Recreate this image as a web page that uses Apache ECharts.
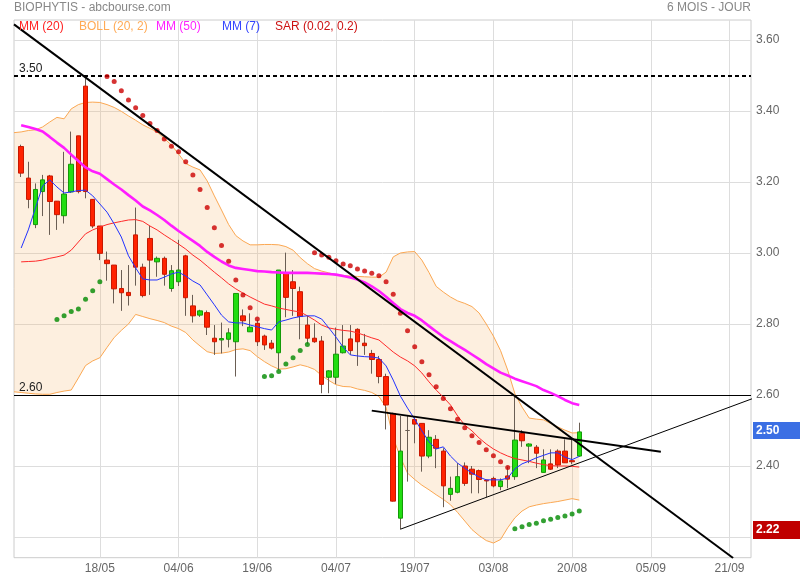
<!DOCTYPE html>
<html><head><meta charset="utf-8">
<script src="https://cdn.jsdelivr.net/npm/echarts@6/dist/echarts.min.js"></script>
<style>html,body{margin:0;padding:0;background:#fff}#c{width:800px;height:580px}</style>
</head><body><div id="c"></div>
<script>
const categories = ['02/05','03/05','04/05','07/05','08/05','09/05','10/05','11/05','14/05','15/05','16/05','17/05','18/05','21/05','22/05','23/05','24/05','25/05','28/05','29/05','30/05','31/05','01/06','04/06','05/06','06/06','07/06','08/06','11/06','12/06','13/06','14/06','15/06','18/06','19/06','20/06','21/06','22/06','25/06','26/06','27/06','28/06','29/06','02/07','03/07','04/07','05/07','06/07','09/07','10/07','11/07','12/07','13/07','16/07','17/07','18/07','19/07','20/07','23/07','24/07','25/07','26/07','27/07','30/07','31/07','01/08','02/08','03/08','06/08','07/08','08/08','09/08','10/08','13/08','14/08','15/08','16/08','17/08','20/08','21/08','22/08','23/08','24/08','27/08','28/08','29/08','30/08','31/08','03/09','05/09','06/09','07/09','10/09','11/09','12/09','13/09','14/09','17/09','18/09','19/09','21/09','24/09','25/09','26/09'];

// candles, from 03/05 (index 1) to 21/08 (index 79)
const opens = [3.300,3.211,3.080,3.173,3.217,3.146,3.105,3.172,3.330,3.470,
3.151,3.076,2.980,2.966,2.900,2.889,3.051,2.960,3.041,2.975,
2.985,2.900,2.919,2.992,2.851,2.825,2.832,2.760,2.755,2.757,
2.750,2.823,2.778,2.802,2.766,2.746,2.719,2.943,2.919,2.891,
2.797,2.760,2.752,2.650,2.650,2.719,2.758,2.785,2.746,2.717,
2.700,2.652,2.548,2.253,2.500,2.531,2.520,2.428,2.475,2.442,
2.320,2.326,2.400,2.391,2.387,2.360,2.365,2.342,2.372,2.370,
2.492,2.456,2.453,2.382,2.406,2.442,2.442,2.415,2.428];
const closes = [3.225,3.151,3.179,3.206,3.145,3.108,3.166,3.250,3.173,3.173,
3.076,2.999,2.970,2.899,2.888,2.880,2.960,2.880,2.980,2.985,
2.940,2.950,2.952,2.874,2.823,2.837,2.791,2.750,2.759,2.775,
2.886,2.809,2.791,2.750,2.741,2.732,2.952,2.875,2.900,2.821,
2.760,2.750,2.630,2.668,2.715,2.738,2.725,2.750,2.739,2.700,
2.652,2.572,2.301,2.442,2.500,2.518,2.428,2.481,2.450,2.344,
2.337,2.370,2.351,2.377,2.362,2.358,2.344,2.358,2.363,2.473,
2.471,2.462,2.436,2.417,2.391,2.403,2.409,2.412,2.496];
const lows = [3.214,3.126,3.070,3.104,3.051,3.065,3.083,3.169,3.168,3.154,
3.070,2.980,2.922,2.858,2.837,2.852,2.908,2.875,2.882,2.933,
2.908,2.891,2.907,2.823,2.804,2.820,2.769,2.713,2.717,2.734,
2.652,2.794,2.778,2.738,2.727,2.728,2.670,2.819,2.823,2.757,
2.744,2.747,2.605,2.605,2.631,2.717,2.713,2.682,2.713,2.660,
2.633,2.503,2.300,2.222,2.356,2.464,2.384,2.422,2.394,2.284,
2.302,2.323,2.344,2.323,2.323,2.312,2.340,2.332,2.337,2.361,
2.454,2.408,2.394,2.382,2.389,2.394,2.409,2.405,2.426];
const highs = [3.305,3.257,3.196,3.220,3.220,3.146,3.285,3.342,3.330,3.492,
3.151,3.076,3.004,2.966,2.952,2.966,3.128,2.970,3.077,2.990,
2.990,2.966,3.037,2.995,2.882,2.840,2.838,2.797,2.804,2.788,
2.886,2.841,2.830,2.811,2.770,2.755,2.952,3.001,2.952,2.905,
2.823,2.802,2.766,2.670,2.790,2.797,2.797,2.788,2.772,2.727,
2.710,2.660,2.550,2.541,2.541,2.540,2.520,2.501,2.487,2.450,
2.370,2.408,2.410,2.400,2.390,2.362,2.370,2.365,2.398,2.595,
2.501,2.464,2.459,2.447,2.447,2.447,2.475,2.475,2.522];

// indicators (index 1..79)
const mm20 = [2.975,2.976,2.977,2.980,2.985,2.989,2.994,3.008,3.031,3.054,
3.065,3.073,3.080,3.085,3.089,3.093,3.094,3.089,3.076,3.065,
3.051,3.038,3.025,3.011,2.994,2.980,2.963,2.946,2.930,2.913,
2.899,2.887,2.876,2.866,2.856,2.851,2.845,2.841,2.837,2.834,
2.823,2.811,2.797,2.789,2.785,2.782,2.780,2.775,2.768,2.761,
2.755,2.738,2.721,2.707,2.696,2.682,2.662,2.637,2.614,2.594,
2.572,2.541,2.515,2.499,2.479,2.462,2.448,2.437,2.428,2.421,
2.417,2.413,2.408,2.404,2.401,2.400,2.400,2.399,2.397];
const mm7 = [3.014,3.065,3.127,3.189,3.206,3.186,3.169,3.172,3.176,3.177,
3.161,3.138,3.115,3.082,3.045,2.992,2.958,2.927,2.924,2.924,
2.932,2.941,2.946,2.935,2.921,2.910,2.882,2.854,2.825,2.806,
2.803,2.803,2.797,2.792,2.787,2.783,2.806,2.811,2.817,2.821,
2.823,2.823,2.814,2.789,2.763,2.735,2.713,2.710,2.708,2.707,
2.704,2.682,2.642,2.597,2.563,2.532,2.499,2.468,2.448,2.454,
2.428,2.408,2.394,2.380,2.369,2.361,2.361,2.361,2.366,2.392,
2.406,2.414,2.423,2.430,2.437,2.437,2.425,2.418,2.427];
const mm50 = [3.360,3.355,3.349,3.342,3.327,3.311,3.296,3.277,3.259,3.241,
3.230,3.223,3.208,3.193,3.179,3.163,3.148,3.131,3.120,3.107,
3.093,3.077,3.062,3.048,3.034,3.020,3.003,2.989,2.976,2.965,
2.958,2.955,2.952,2.949,2.948,2.946,2.945,2.944,2.944,2.944,
2.944,2.943,2.942,2.941,2.939,2.935,2.931,2.925,2.917,2.906,
2.893,2.877,2.859,2.842,2.831,2.823,2.810,2.794,2.779,2.764,
2.752,2.739,2.727,2.714,2.701,2.687,2.675,2.663,2.655,2.646,
2.639,2.632,2.625,2.614,2.606,2.597,2.586,2.577,2.572];
// Bollinger (index 0..79)
const bollUp = [3.339,3.341,3.345,3.347,3.355,3.369,3.382,3.378,3.406,3.418,
3.424,3.425,3.424,3.418,3.410,3.399,3.386,3.374,3.361,3.351,
3.341,3.323,3.304,3.279,3.252,3.242,3.234,3.203,3.161,3.121,
3.080,3.049,3.034,3.023,3.023,3.024,3.024,3.023,3.018,3.008,
2.987,2.970,2.956,2.949,2.944,2.939,2.937,2.935,2.934,2.933,
2.932,2.932,2.946,2.989,3.000,3.003,3.004,2.980,2.945,2.906,
2.890,2.876,2.865,2.858,2.849,2.831,2.800,2.766,2.725,2.670,
2.604,2.566,2.535,2.532,2.530,2.520,2.510,2.501,2.493,2.494];
const bollLow = [2.609,2.607,2.605,2.603,2.602,2.602,2.607,2.611,2.614,2.648,
2.683,2.696,2.705,2.734,2.762,2.782,2.800,2.827,2.821,2.815,
2.810,2.804,2.794,2.787,2.776,2.755,2.738,2.722,2.717,2.718,
2.721,2.728,2.730,2.725,2.708,2.694,2.682,2.673,2.674,2.679,
2.685,2.680,2.672,2.655,2.641,2.629,2.624,2.623,2.617,2.613,
2.607,2.596,2.565,2.479,2.425,2.380,2.362,2.346,2.333,2.319,
2.306,2.291,2.269,2.245,2.221,2.204,2.190,2.183,2.193,2.226,
2.254,2.273,2.285,2.290,2.294,2.297,2.300,2.304,2.308,2.304];
// Parabolic SAR (index 1..79)
const sar = ['-','-','-','-','-',2.813,2.823,2.835,2.842,2.870,2.894,2.919,
3.497,3.483,3.457,3.431,3.409,3.387,3.365,3.345,3.321,3.301,3.285,3.257,3.220,3.179,3.128,3.071,3.021,2.977,2.924,2.882,2.846,2.814,
2.652,2.654,2.666,2.687,2.705,2.725,2.742,
3.001,2.994,2.988,2.978,2.969,2.964,2.955,2.949,2.943,2.936,2.919,2.884,2.830,2.781,2.736,2.694,2.657,2.623,2.590,2.561,2.532,2.508,2.485,2.466,2.446,2.429,2.412,2.396,
2.223,2.229,2.235,2.239,2.246,2.250,2.255,2.259,2.265,2.273];

// drawn lines: [category index, price]
const trendDown = [[0, 3.644], [100.5, 2.141]];
const trendFlat = [[50, 2.556], [90.4, 2.440]];
const trendUp = [[54, 2.222], [103.5, 2.592]];
const levelDotted = 3.504, levelDottedText = '3.50';
const levelSolid = 2.597, levelSolidText = '2.60';
const periodLow = 2.222;

const yGrid = [2.2, 2.4, 2.6, 2.8, 3.0, 3.2, 3.4, 3.6];
const yLabels = [2.4, 2.6, 2.8, 3.0, 3.2, 3.4, 3.6];
const xLabelIdx = [12, 23, 34, 45, 56, 67, 78, 89, 100];

const FONT = '"Liberation Sans", Arial, sans-serif';
const N = categories.length;
function pad(arr, start) {
  const out = new Array(N).fill('-');
  arr.forEach((v, k) => { out[start + k] = v; });
  return out;
}
const wickData = [], bodyData = [];
wickData.push('-'); bodyData.push('-');
for (let k = 0; k < opens.length; k++) {
  const o = opens[k], c = closes[k];
  wickData.push([o, c, lows[k], highs[k]]);
  bodyData.push([o, c, Math.min(o, c), Math.max(o, c)]);
}
const sarRed = new Array(N).fill('-'), sarGreen = new Array(N).fill('-');
sar.forEach((v, k) => {
  if (v === '-') return;
  if (v > closes[k]) sarRed[k + 1] = v; else sarGreen[k + 1] = v;
});
const bollDiff = bollUp.map((u, k) => +(u - bollLow[k]).toFixed(4));
const lastClose = closes[closes.length - 1];

const showIdx = (i) => xLabelIdx.indexOf(i) >= 0;

const chart = echarts.init(document.getElementById('c'), null, {renderer: 'canvas'});
chart.setOption({
  animation: false,
  backgroundColor: '#fff',
  textStyle: {fontFamily: FONT},
  title: [
    {text: 'BIOPHYTIS - abcbourse.com', left: 14, top: 2, padding: 0,
     textStyle: {fontSize: 12, fontWeight: 'normal', color: '#888', fontFamily: FONT}},
    {text: '6 MOIS - JOUR', right: 49, top: 2, padding: 0,
     textStyle: {fontSize: 12, fontWeight: 'normal', color: '#888', fontFamily: FONT}}
  ],
  graphic: [
    {type: 'text', left: 19, top: 21, z: 100, style: {text: 'MM (20)', fill: '#ff2222', font: '12px ' + FONT}},
    {type: 'text', left: 79, top: 21, z: 100, style: {text: 'BOLL (20, 2)', fill: '#ffaa55', font: '12px ' + FONT}},
    {type: 'text', left: 156, top: 21, z: 100, style: {text: 'MM (50)', fill: '#ff22ff', font: '12px ' + FONT}},
    {type: 'text', left: 222, top: 21, z: 100, style: {text: 'MM (7)', fill: '#3344ff', font: '12px ' + FONT}},
    {type: 'text', left: 275, top: 21, z: 100, style: {text: 'SAR (0.02, 0.2)', fill: '#cc1111', font: '12px ' + FONT}}
  ],
  grid: {left: 14, right: 49, top: 20, bottom: 22.3, show: true, borderColor: '#cccccc', borderWidth: 1, backgroundColor: '#fff'},
  xAxis: [
    {type: 'category', data: categories, boundaryGap: false,
     axisLine: {show: false}, axisTick: {show: false},
     axisLabel: {interval: (i) => showIdx(i), color: '#666', fontSize: 12, margin: 5, fontFamily: FONT},
     splitLine: {show: true, interval: (i) => showIdx(i), lineStyle: {color: '#dddddd', width: 1}}},
    {type: 'value', min: 0, max: N - 1, show: false}
  ],
  yAxis: {type: 'value', position: 'right', min: 2.1417, max: 3.6563,
    axisLine: {show: false},
    axisTick: {show: false, customValues: yGrid},
    splitLine: {show: true, lineStyle: {color: '#dddddd', width: 1}},
    axisLabel: {customValues: yLabels, formatter: (v) => v.toFixed(2), color: '#666', fontSize: 12, margin: 5, fontFamily: FONT}},
  series: [
    {type: 'line', name: 'bollBase', data: pad(bollLow, 0), stack: 'boll', symbol: 'none', silent: true,
     lineStyle: {width: 0, opacity: 0}, z: 1},
    {type: 'line', name: 'bollFill', data: pad(bollDiff, 0), stack: 'boll', symbol: 'none', silent: true,
     lineStyle: {width: 0, opacity: 0}, areaStyle: {color: 'rgba(247,178,105,0.3)', origin: 'start'}, z: 1},
    {type: 'line', name: 'BOLL up', data: pad(bollUp, 0), symbol: 'none', lineStyle: {color: '#fba853', width: 1}, z: 2},
    {type: 'line', name: 'BOLL low', data: pad(bollLow, 0), symbol: 'none', lineStyle: {color: '#fba853', width: 1}, z: 2},
    {type: 'candlestick', name: 'wick', data: wickData, barWidth: 1, z: 3,
     itemStyle: {color: '#6a5e54', color0: '#6a5e54', borderColor: '#6a5e54', borderColor0: '#6a5e54', borderColorDoji: '#6a5e54', borderWidth: 1}},
    {type: 'candlestick', name: 'body', data: bodyData, barWidth: 5, z: 4,
     itemStyle: {color: '#22dd11', color0: '#ff2200', borderColor: '#149a08', borderColor0: '#c81800', borderColorDoji: '#6a5e54', borderWidth: 1},
     markLine: {silent: true, symbol: 'none', animation: false,
       lineStyle: {width: 0, color: 'rgba(0,0,0,0)'},
       data: [
         {yAxis: lastClose, label: {show: true, position: 'end', distance: 2, formatter: lastClose.toFixed(2),
           backgroundColor: '#3b6fe4', color: '#fff', fontWeight: 'bold', fontSize: 12, padding: [2, 24, 2, 3], lineHeight: 13, fontFamily: FONT}},
         {yAxis: periodLow, label: {show: true, position: 'end', distance: 2, formatter: periodLow.toFixed(2),
           backgroundColor: '#c00000', color: '#fff', fontWeight: 'bold', fontSize: 12, padding: [3, 24, 2, 3], lineHeight: 13, fontFamily: FONT}}
       ]}},
    {type: 'line', name: 'MM (20)', data: pad(mm20, 1), symbol: 'none', lineStyle: {color: '#ff2a2a', width: 1}, z: 5},
    {type: 'line', name: 'MM (7)', data: pad(mm7, 1), symbol: 'none', lineStyle: {color: '#2233ff', width: 1}, z: 5},
    {type: 'line', name: 'MM (50)', data: pad(mm50, 1), symbol: 'none', lineStyle: {color: '#ff1dff', width: 2.6}, z: 5},
    {type: 'scatter', name: 'SAR up', data: sarRed, symbol: 'circle', symbolSize: 5, itemStyle: {color: '#cc0000'}, z: 6},
    {type: 'scatter', name: 'SAR down', data: sarGreen, symbol: 'circle', symbolSize: 5, itemStyle: {color: '#008a00'}, z: 6},
    {type: 'line', name: 'trendDown', xAxisIndex: 1, data: trendDown, symbol: 'none', lineStyle: {color: '#000', width: 2}, z: 7,
     markLine: {silent: true, symbol: 'none', animation: false,
       data: [
         {yAxis: levelDotted, lineStyle: {color: '#000', width: 2, type: [4, 3]},
          label: {show: true, position: 'insideStartTop', formatter: levelDottedText, color: '#222', fontSize: 12, distance: [5, 1], fontFamily: FONT}},
         {yAxis: levelSolid, lineStyle: {color: '#000', width: 1.2, type: 'solid'},
          label: {show: true, position: 'insideStartTop', formatter: levelSolidText, color: '#222', fontSize: 12, distance: [5, 1], fontFamily: FONT}}
       ]}},
    {type: 'line', name: 'trendFlat', xAxisIndex: 1, data: trendFlat, symbol: 'none', lineStyle: {color: '#000', width: 2}, z: 7},
    {type: 'line', name: 'trendUp', xAxisIndex: 1, data: trendUp, symbol: 'none', lineStyle: {color: '#000', width: 1}, z: 7}
  ]
});
</script></body></html>
